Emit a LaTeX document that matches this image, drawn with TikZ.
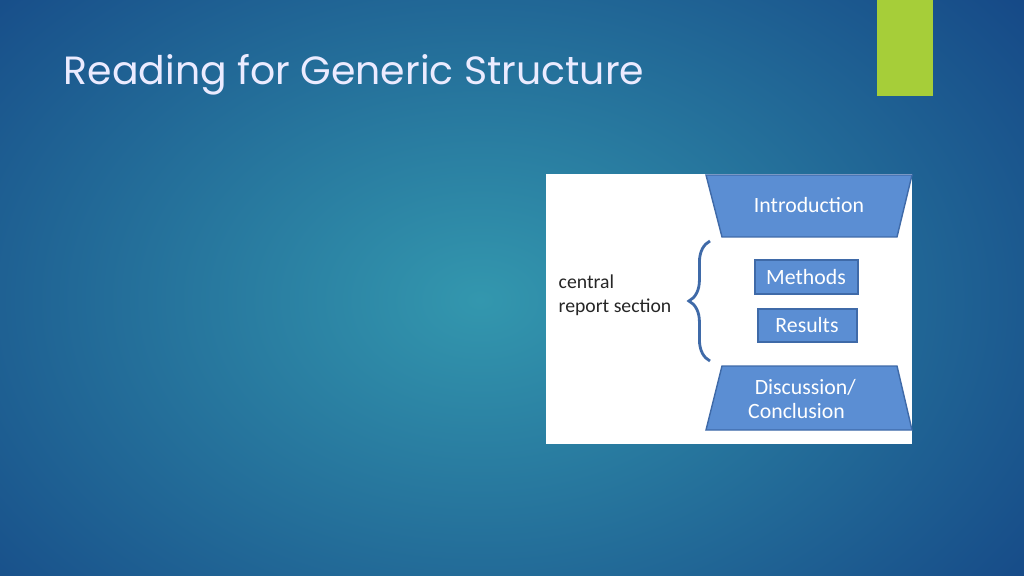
\documentclass[tikz,border=0pt]{standalone}
\usepackage{fontspec}
\setmainfont{Poppins}
\newfontfamily\calib{Carlito}
\usetikzlibrary{decorations.pathreplacing}
\definecolor{bgin}{HTML}{3397AE}
\definecolor{bgout}{HTML}{123F82}
\definecolor{leaf}{HTML}{A6CE39}
\definecolor{boxblue}{HTML}{5B8ED3}
\definecolor{boxedge}{HTML}{3F6AA8}
\begin{document}
\begin{tikzpicture}[x=0.01cm,y=-0.01cm,
    part/.style={fill=boxblue, draw=boxedge, line width=0.4pt},
    lbl/.style={font=\calib\fontsize{6.2}{7}\selectfont, text=white},
    side/.style={font=\calib\fontsize{5.6}{6.8}\selectfont, text=black!85, align=left, inner sep=0pt, anchor=west}]
  \useasboundingbox (0,0) rectangle (1024,576);
  \shade[inner color=bgin, outer color=bgout] (-300,-250) rectangle (1260,850);
  \fill[leaf] (877,0) rectangle (933,96);
  \node[anchor=base west, inner sep=0pt, text=white!92!blue, font=\fontsize{11.2}{13}\selectfont] (title) at (63,85) {Reading for Generic Structure};
  % picture panel
  \fill[white] (546,174) rectangle (912,444);
  \draw[part] (706,175) -- (912,175) -- (897,237) -- (722,237) -- cycle;
  \node[lbl] (intro) at (809,205) {Introduction};
  \draw[part] (755,260) rectangle (858,294);
  \node[lbl] (meth) at (806,277) {Methods};
  \draw[part] (758,309) rectangle (857,342);
  \node[lbl] (res) at (807,325) {Results};
  \draw[part] (722,366) -- (897,366) -- (912,430) -- (706,430) -- cycle;
  \node[lbl, align=left] (disc) at (802,399) {\hspace*{0.3em}Discussion/\\Conclusion};
  \node[side] (central) at (558,295) {central\\report section};
  \coordinate (btop) at (710,241);
  \coordinate (bbot) at (710,361);
  \draw[boxedge, line width=0.8pt, decorate, decoration={brace, amplitude=6pt}] (bbot) -- (btop);
\end{tikzpicture}
\end{document}
